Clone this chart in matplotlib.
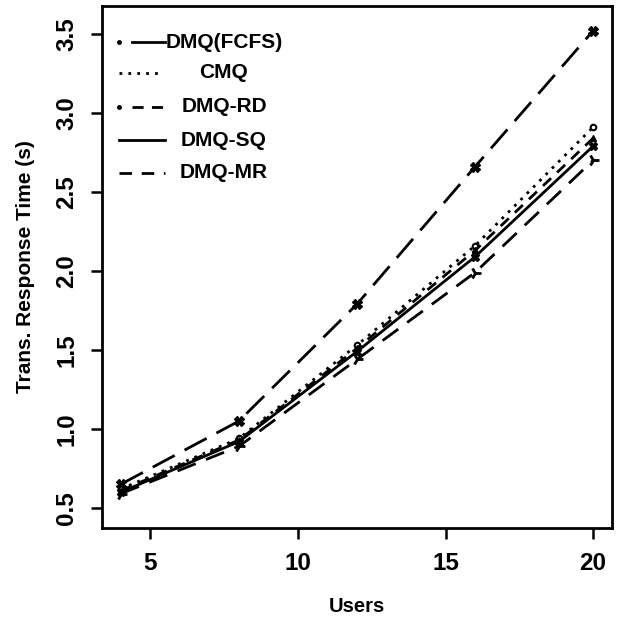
import matplotlib
matplotlib.use("Agg")
import matplotlib.pyplot as plt
from matplotlib.lines import Line2D

users = [4, 8, 12, 16, 20]
fcfs = [0.65, 1.05, 1.79, 2.66, 3.52]
cmq = [0.62, 0.94, 1.53, 2.16, 2.91]
rd = [0.61, 0.93, 1.51, 2.13, 2.84]
sq = [0.60, 0.92, 1.49, 2.09, 2.79]
mr = [0.59, 0.89, 1.44, 1.99, 2.70]
labels = ["DMQ(FCFS)", "CMQ", "DMQ-RD", "DMQ-SQ", "DMQ-MR"]
xticks = [5, 10, 15, 20]
yticks = [0.5, 1.0, 1.5, 2.0, 2.5, 3.0, 3.5]

plt.rcParams['font.family'] = ['Liberation Sans', 'DejaVu Sans']
plt.rcParams['font.weight'] = 'bold'

W, H = 626, 623
L, R, T, B = 102, 612, 6, 528
fig = plt.figure(figsize=(W/100, H/100), dpi=100)
ax = fig.add_axes([L/W, 1-B/H, (R-L)/W, (B-T)/H])

lw = 2.0
styles = [
    dict(dashes=(9, 4), marker='X', ms=7),
    dict(dashes=(1, 2.2), marker='o', ms=4, mfc='white', mew=1.5),
    dict(dashes=(4, 3), marker='^', ms=5),
    dict(linestyle='-', marker='X', ms=6),
    dict(dashes=(7, 4), marker='4', ms=9, mew=2),
]
series = [fcfs, cmq, rd, sq, mr]
for vals, st in zip(series, styles):
    ax.plot(users, vals, color='black', lw=lw, **st)

ax.set_xlim(3.36, 20.64)
ax.set_ylim(0.373, 3.677)
ax.set_xticks(xticks)
ax.set_xticklabels([str(v) for v in xticks])
ax.set_yticks(yticks)
ax.set_yticklabels([f"{v:.1f}" for v in yticks], rotation=90, va='center')
ax.tick_params(axis='both', which='major', length=8, width=1.8, labelsize=17.5, direction='out')
ax.tick_params(axis='x', pad=9)
ax.tick_params(axis='y', pad=9)
for s in ax.spines.values():
    s.set_linewidth(2)
ax.set_xlabel("Users", fontsize=14.5, fontweight='bold')
ax.set_ylabel("Trans. Response Time (s)", fontsize=15, fontweight='bold')
ax.xaxis.set_label_coords(0.5, (B-607)/(B-T))
ax.xaxis.label.set_va('center')
ax.yaxis.set_label_coords((26-L)/(R-L), 0.5)
ax.yaxis.label.set_va('center')

# legend (manual, centered labels, no frame)
def ax_x(px):
    return (px-L)/(R-L)
def ax_y(py):
    return (B-py)/(B-T)

rows = [42, 73, 107, 140, 173]
leg_styles = [
    [dict(xs=(119, 120), marker='.', ms=3), dict(xs=(132, 165), dashes=None)],
    [dict(xs=(119, 163), dashes=(1, 2.2))],
    [dict(xs=(119, 120), marker='.', ms=3), dict(xs=(132, 165), dashes=(4, 3))],
    [dict(xs=(119, 165), dashes=None)],
    [dict(xs=(119, 165), dashes=(4.5, 3.5))],
]
for py, lab, parts in zip(rows, labels, leg_styles):
    yy = ax_y(py)
    for p in parts:
        kw = dict(color='black', lw=lw, transform=ax.transAxes, clip_on=False)
        if 'marker' in p:
            ln = Line2D([ax_x(p['xs'][0])], [yy], marker='o', ms=2.5, linestyle='none', **kw)
        else:
            ln = Line2D([ax_x(p['xs'][0]), ax_x(p['xs'][1])], [yy, yy], **kw)
            if p.get('dashes'):
                ln.set_dashes(p['dashes'])
        ax.add_line(ln)
    ax.text(ax_x(224), yy, lab, transform=ax.transAxes, ha='center', va='center',
            fontsize=15, fontweight='bold')

fig.savefig("out.png", dpi=100)
